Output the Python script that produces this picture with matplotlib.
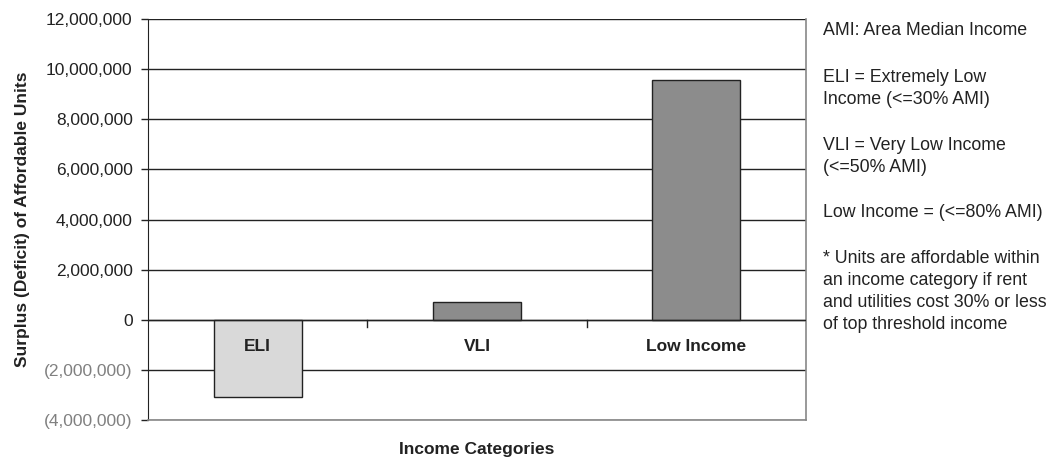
import numpy as np
import matplotlib.pyplot as plt
from matplotlib.ticker import FuncFormatter

plt.rcParams['font.family'] = ['Liberation Sans', 'DejaVu Sans']

categories = ['ELI', 'VLI', 'Low Income']
values = [-3070000, 720000, 9560000]
colors = ['#d9d9d9', '#8c8c8c', '#8c8c8c']
notes = ['AMI: Area Median Income',
         'ELI = Extremely Low\nIncome (<=30% AMI)',
         'VLI = Very Low Income\n(<=50% AMI)',
         'Low Income = (<=80% AMI)',
         '* Units are affordable within\nan income category if rent\nand utilities cost 30% or less\nof top threshold income']

fig = plt.figure(figsize=(10.58, 4.61), dpi=100)
ax = fig.add_axes([0.1399, 0.0889, 0.6219, 0.8698])

x = np.arange(len(categories))
ax.bar(x, values, width=0.4, color=colors, edgecolor='#222222', linewidth=1.0, zorder=3)
ax.set_xlim(-0.5, 2.5)
ax.set_ylim(-4000000, 12000000)
ax.set_yticks(np.arange(-4000000, 12000001, 2000000))
ax.yaxis.grid(True, color='#222222', linewidth=1.0, zorder=0)
ax.axhline(0, color='#222222', linewidth=1.0, zorder=4)

def fmt(v, pos):
    if v < 0:
        return '({:,.0f})'.format(-v)
    return '{:,.0f}'.format(v)

ax.yaxis.set_major_formatter(FuncFormatter(fmt))
ax.tick_params(axis='y', labelsize=12.5, length=5, width=1, color='#222222', pad=6)
for lab, v in zip(ax.get_yticklabels(), ax.get_yticks()):
    lab.set_color('#808080' if v < 0 else '#222222')

ax.set_xticks([])
for b in [0.5, 1.5]:
    ax.plot([b, b], [0, -300000], color='#222222', linewidth=1.0, zorder=4)
for i, c in enumerate(categories):
    ax.text(i, -1080000, c, ha='center', va='center', fontsize=12.5, fontweight='bold', color='#222222')

for s in ['right', 'bottom', 'top']:
    ax.spines[s].set_color('#888888')
    ax.spines[s].set_linewidth(1.2)
ax.spines['top'].set_visible(False)
ax.spines['left'].set_color('#222222')

ax.set_ylabel('Surplus (Deficit) of Affordable Units', fontsize=12.5, fontweight='bold', labelpad=10, color='#222222')
ax.set_xlabel('Income Categories', fontsize=12.5, fontweight='bold', labelpad=16, color='#222222')

ys = [22, 69, 137, 204, 250]
for y, t in zip(ys, notes):
    fig.text(823 / 1058, 1 - y / 461, t, ha='left', va='top', fontsize=12.8, color='#222222', linespacing=1.38)

fig.savefig('out.png', dpi=100)
